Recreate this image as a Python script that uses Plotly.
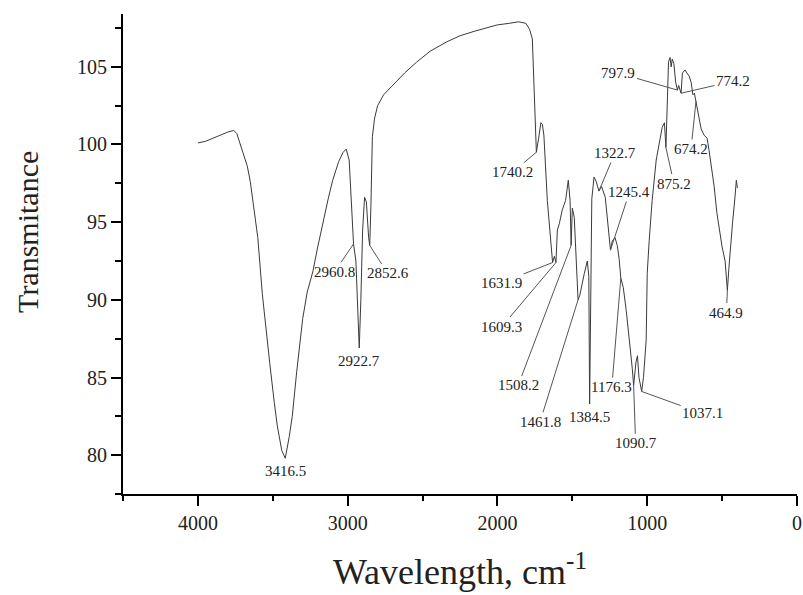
import plotly.graph_objects as go

# FTIR spectrum (wavenumber cm-1, transmittance)
wavenumber = [4000, 3950, 3900, 3850, 3800, 3760, 3740, 3700, 3670, 3650, 3620, 3600, 3570, 3540,
              3520, 3490, 3470, 3440, 3416.5, 3390, 3370, 3340, 3300, 3270, 3233, 3200, 3167, 3130,
              3100, 3060, 3030, 3010, 2990, 2975, 2960.8, 2945, 2930, 2922.7, 2912, 2900, 2887,
              2875, 2860, 2852.6, 2845, 2835, 2820, 2800, 2760, 2700, 2620, 2540, 2450, 2340, 2250,
              2150, 2073, 2000, 1920, 1860, 1810, 1785, 1767, 1755, 1748, 1740.2, 1725, 1710, 1700,
              1690, 1667, 1645, 1631.9, 1620, 1609.3, 1600, 1587, 1567, 1545, 1527, 1515, 1508.2,
              1500, 1487, 1473, 1461.8, 1450, 1435, 1420, 1400, 1390, 1384.5, 1378, 1370, 1355,
              1340, 1322.7, 1305, 1280, 1265, 1245.4, 1233, 1215, 1200, 1187, 1176.3, 1160, 1140,
              1120, 1100, 1090.7, 1075, 1065, 1055, 1037.1, 1025, 1007, 1000, 987, 967, 940, 920,
              900, 885, 875.2, 865, 858, 848, 840, 833, 822, 810, 797.9, 790, 782, 774.2, 765, 748,
              735, 720, 707, 695, 685, 674.2, 665, 653, 640, 620, 600, 587, 570, 553, 535, 520, 500,
              480, 464.9, 455, 445, 430, 415, 405, 398]
transmittance = [100.1, 100.2, 100.4, 100.6, 100.8, 100.9, 100.7, 99.5, 98.6, 97.6, 95.6, 94.0, 90.4,
                 87.5, 85.9, 83.4, 81.9, 80.3, 79.8, 81.2, 82.5, 85.4, 88.8, 90.5, 91.8, 93.4, 94.9,
                 96.5, 97.7, 98.9, 99.5, 99.7, 99.0, 96.5, 93.6, 92.5, 89.0, 86.9, 90.0, 94.5, 96.6,
                 96.3, 94.0, 93.5, 96.0, 100.5, 101.7, 102.5, 103.2, 103.8, 104.6, 105.3, 106.0,
                 106.6, 107.0, 107.3, 107.5, 107.7, 107.8, 107.9, 107.8, 107.4, 106.8, 103.5, 100.8,
                 99.5, 100.4, 101.4, 101.3, 100.6, 96.4, 93.5, 92.4, 92.8, 92.4, 94.5, 94.9, 95.8,
                 96.4, 97.7, 96.4, 93.5, 95.9, 95.3, 92.1, 90.0, 90.3, 91.1, 91.7, 92.5, 91.5, 83.3,
                 91.0, 96.5, 97.9, 97.6, 97.0, 97.3, 96.6, 95.0, 93.2, 93.8, 94.0, 93.5, 92.6, 91.4,
                 90.8, 89.3, 87.6, 85.6, 84.5, 86.0, 86.4, 85.0, 84.1, 85.0, 87.4, 91.7, 93.8, 96.4,
                 99.0, 100.1, 101.1, 101.4, 99.8, 103.0, 105.3, 105.6, 105.0, 105.5, 105.2, 104.0,
                 103.5, 103.8, 103.6, 103.3, 104.6, 104.8, 104.6, 104.4, 104.0, 103.2, 103.3, 102.8,
                 102.2, 101.7, 101.0, 100.6, 100.4, 99.6, 98.5, 97.3, 95.6, 94.5, 93.4, 92.5, 90.6,
                 92.0, 93.5, 95.0, 96.5, 97.7, 97.2]

# Labelled peaks
peak_labels = ["3416.5", "2960.8", "2922.7", "2852.6", "1740.2", "1631.9", "1609.3", "1508.2",
               "1461.8", "1384.5", "1322.7", "1245.4", "1176.3", "1090.7", "1037.1", "875.2",
               "797.9", "774.2", "674.2", "464.9"]
peak_x = [3416.5, 2960.8, 2922.7, 2852.6, 1740.2, 1631.9, 1609.3, 1508.2, 1461.8, 1384.5,
          1322.7, 1245.4, 1176.3, 1090.7, 1037.1, 875.2, 797.9, 774.2, 674.2, 464.9]
peak_y = [79.8, 93.6, 86.9, 93.5, 99.5, 92.4, 92.4, 93.5, 90.0, 83.3, 97.0, 93.2, 91.4, 84.5,
          84.1, 99.8, 103.5, 103.3, 102.8, 90.6]

# label placement (pixel offsets from the peak; None = no leader line)
label_offsets = [None, (-19, 28), None, (18, 28), (-24, 20), (-51, 20), (-54, 64), (-53, 140),
                 (-38, 122), None, (16, -38), (19, -58), (-9, 109), (2, 58), (61, 22), (8, 36),
                 (-59, -17), (52, -12), (-5, 48), (-1, 22)]

FONT = "Liberation Serif"

fig = go.Figure()
fig.add_trace(go.Scatter(x=wavenumber, y=transmittance, mode="lines",
                         line=dict(color="#3a3a3a", width=1), showlegend=False,
                         hoverinfo="x+y"))

annotations = []
for txt, px, py, off in zip(peak_labels, peak_x, peak_y, label_offsets):
    if off is None:
        annotations.append(dict(x=px, y=py, xref="x", yref="y", text=txt, showarrow=False,
                                yshift=-13, font=dict(family=FONT, size=15, color="#222")))
    else:
        annotations.append(dict(x=px, y=py, xref="x", yref="y", text=txt, showarrow=True,
                                ax=off[0], ay=off[1], arrowhead=0, arrowwidth=1,
                                arrowcolor="#555", standoff=0,
                                font=dict(family=FONT, size=15, color="#222")))

annotations.append(dict(text="Transmitance", xref="paper", yref="paper", x=-0.141, y=0.546,
                        xanchor="center", yanchor="middle",
                        textangle=-90, showarrow=False,
                        font=dict(family=FONT, size=30, color="#222")))

fig.update_layout(
    width=803, height=595,
    margin=dict(l=123, r=6, t=14, b=101, autoexpand=False),
    paper_bgcolor="white", plot_bgcolor="white",
    font=dict(family=FONT, color="#222"),
    annotations=annotations,
    xaxis=dict(range=[4500, 0], tick0=0, dtick=1000, ticks="outside", ticklen=10, tickwidth=2,
               tickcolor="black", showline=True, linecolor="black", linewidth=2,
               showgrid=False, zeroline=False, automargin=False,
               minor=dict(dtick=500, tick0=0, ticks="outside", ticklen=5, tickwidth=2,
                          tickcolor="black", showgrid=False),
               tickfont=dict(family=FONT, size=20, color="#222"),
               title=dict(text="Wavelength, cm<sup>-1</sup>", standoff=26,
                          font=dict(family=FONT, size=36, color="#222"))),
    yaxis=dict(range=[77.5, 108.4], tick0=80, dtick=5, ticks="outside", ticklen=10, tickwidth=2,
               tickcolor="black", showline=True, linecolor="black", linewidth=2,
               showgrid=False, zeroline=False, automargin=False,
               minor=dict(dtick=2.5, tick0=80, ticks="outside", ticklen=6, tickwidth=2,
                          tickcolor="black", showgrid=False),
               tickfont=dict(family=FONT, size=20, color="#222")),
)

fig.write_html("out.html", config={"displayModeBar": False},
               post_script="document.body.style.margin='0';document.body.style.overflow='hidden';")
